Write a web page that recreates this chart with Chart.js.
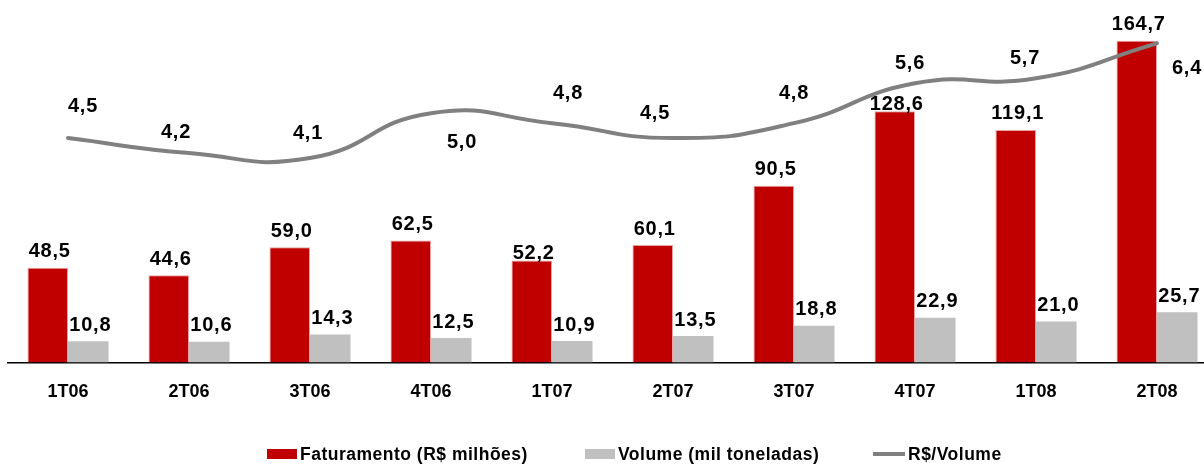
<!DOCTYPE html>
<html>
<head>
<meta charset="utf-8">
<script src="https://cdn.jsdelivr.net/npm/chart.js@4/dist/chart.umd.min.js"></script>
<style>
  html, body { margin: 0; padding: 0; background: #fff; overflow: hidden; }
  #wrap { position: relative; width: 1204px; height: 464px; overflow: hidden; }
  #c { position: absolute; left: 0; top: 0; }
  .leg { position: absolute; top: 444px; font: bold 17.5px "Liberation Sans", Arial, sans-serif; letter-spacing: 0.5px; color: #000; white-space: nowrap; line-height: 20px; }
  .sw { position: absolute; }
</style>
</head>
<body>
<div id="wrap">
  <canvas id="c" width="1220" height="464"></canvas>
  <div class="sw" style="left:267px;top:449px;width:30px;height:10px;background:#C00000"></div>
  <div class="leg" style="left:300px">Faturamento (R$ milhões)</div>
  <div class="sw" style="left:585px;top:449px;width:30px;height:10px;background:#C0C0C0"></div>
  <div class="leg" style="left:618px">Volume (mil toneladas)</div>
  <div class="sw" style="left:873px;top:452px;width:32px;height:4px;background:#808080"></div>
  <div class="leg" style="left:908px">R$/Volume</div>
</div>
<script>
const categorias = ['1T06', '2T06', '3T06', '4T06', '1T07', '2T07', '3T07', '4T07', '1T08', '2T08'];
const faturamento = [48.5, 44.6, 59.0, 62.5, 52.2, 60.1, 90.5, 128.6, 119.1, 164.7];
const volume = [10.8, 10.6, 14.3, 12.5, 10.9, 13.5, 18.8, 22.9, 21.0, 25.7];
const precoVolume = [4.5, 4.2, 4.1, 5.0, 4.8, 4.5, 4.8, 5.6, 5.7, 6.4];

// label nudges (pixels) for the R$/Volume labels, as placed in the original
const lineLabelNudge = [[15, -32], [-13, -21], [-2, -25], [31, 29], [16, -30], [-18, -25], [0, -30], [-5, -20], [-11, -20], [30, 25]];
const redLabelGap = [16, 16, 16, 16, 7, 16, 16, 7, 16, 16];

function fmt(v) {
    return v.toFixed(1).replace('.', ',');
}

const rotulos = {
    id: 'rotulos',
    afterDatasetsDraw(chart) {
        const ctx = chart.ctx;
        ctx.save();
        ctx.fillStyle = '#000';
        ctx.font = 'bold 20px "Liberation Sans", Arial, sans-serif';
        ctx.letterSpacing = '0.8px';
        ctx.textAlign = 'center';
        ctx.textBaseline = 'middle';
        chart.data.datasets.forEach(function (ds, i) {
            const meta = chart.getDatasetMeta(i);
            meta.data.forEach(function (el, j) {
                const txt = fmt(ds.data[j]);
                if (ds.type === 'line') {
                    const n = lineLabelNudge[j];
                    ctx.fillText(txt, el.x + n[0], el.y + n[1]);
                } else if (i === 1) {
                    ctx.fillText(txt, el.x + 2, el.y - redLabelGap[j]);
                } else {
                    ctx.fillText(txt, el.x + 2, el.y - 16);
                }
            });
        });
        ctx.restore();
    }
};

const ctx = document.getElementById('c').getContext('2d');
const chart = new Chart(ctx, {
    data: {
        labels: categorias,
        datasets: [
            {
                type: 'line',
                label: 'R$/Volume',
                data: precoVolume,
                yAxisID: 'y2',
                borderColor: '#808080',
                borderWidth: 4,
                tension: 0.5,
                pointRadius: 0,
                borderCapStyle: 'round',
                order: 0
            },
            {
                type: 'bar',
                label: 'Faturamento (R$ milhões)',
                data: faturamento,
                backgroundColor: '#C00000',
                borderColor: '#E8A0A0',
                borderWidth: { left: 1, right: 1, top: 1, bottom: 0 },
                yAxisID: 'y',
                barPercentage: 1.0,
                categoryPercentage: 0.67,
                order: 1
            },
            {
                type: 'bar',
                label: 'Volume (mil toneladas)',
                data: volume,
                backgroundColor: '#C0C0C0',
                yAxisID: 'y',
                barPercentage: 1.0,
                categoryPercentage: 0.67,
                order: 1
            }
        ]
    },
    options: {
        responsive: false,
        animation: false,
        layout: { padding: { left: 7.5, right: 2.5, top: 11, bottom: 42 } },
        plugins: {
            legend: { display: false },
            tooltip: { enabled: false }
        },
        scales: {
            x: {
                grid: { display: false, drawTicks: false },
                border: { display: true, color: '#000', width: 1.5 },
                ticks: {
                    color: '#000',
                    padding: 19,
                    font: { family: '"Liberation Sans", Arial, sans-serif', size: 18, weight: 'bold' }
                }
            },
            y: {
                display: false,
                min: 0,
                max: 180
            },
            y2: {
                display: false,
                min: 0,
                max: 7.05
            }
        }
    },
    plugins: [rotulos]
});
</script>
</body>
</html>
